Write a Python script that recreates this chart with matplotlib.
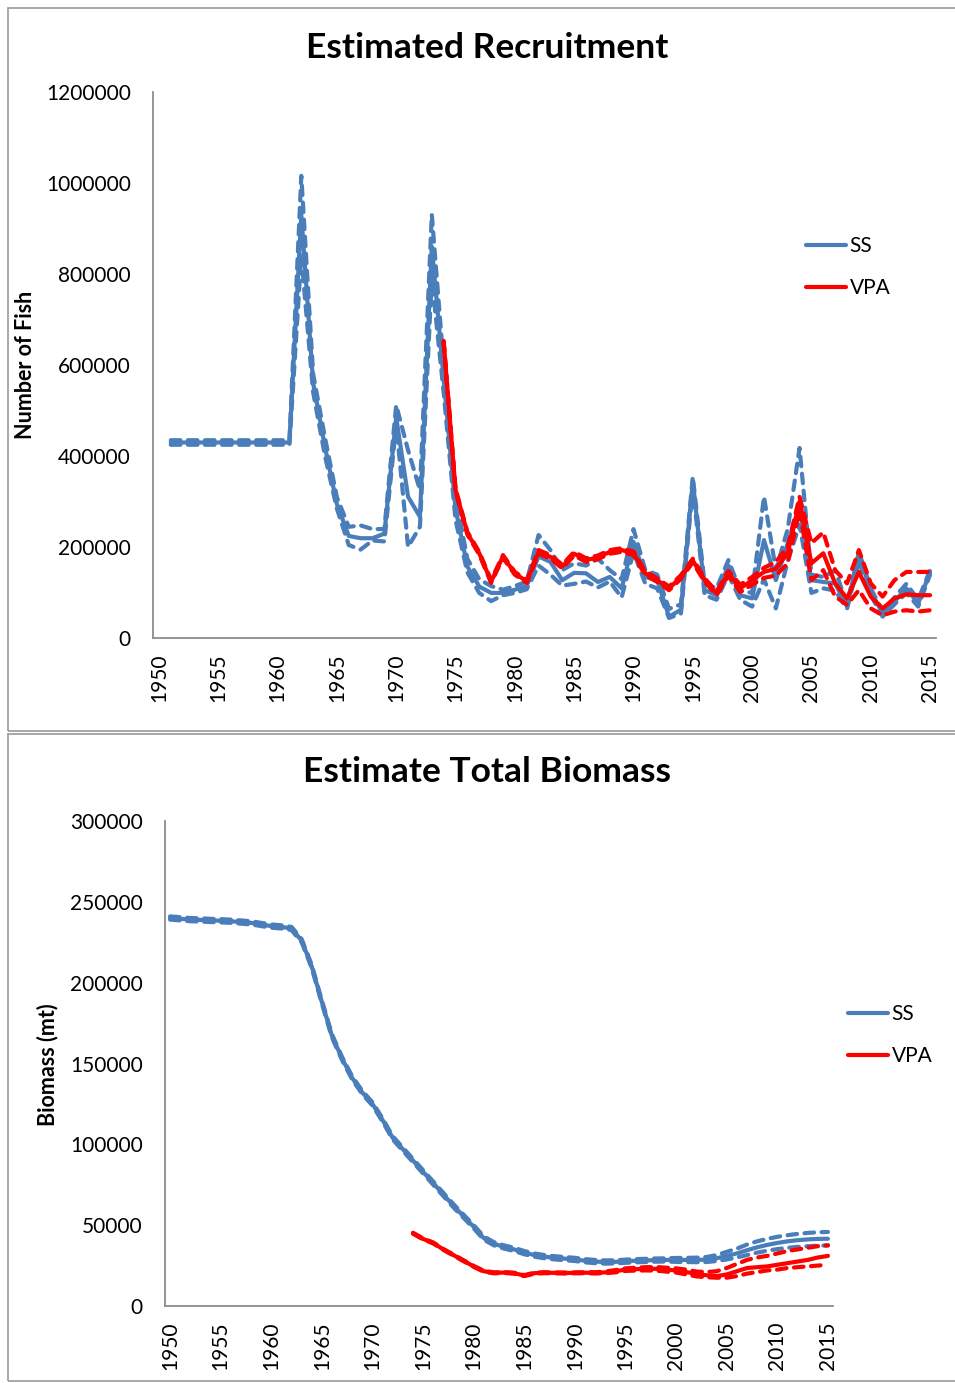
import matplotlib
matplotlib.use("Agg")
import matplotlib.pyplot as plt
from matplotlib.lines import Line2D
from matplotlib.patches import Rectangle

plt.rcParams['font.family'] = ['Lato', 'DejaVu Sans']

BLUE = '#4A7EBB'
RED = '#FF0000'
GRAY = '#8C8C8C'

# ---------------- Recruitment data ----------------
rec_ss_years = list(range(1951, 2016))
rec_ss = [430000, 430000, 430000, 430000, 430000, 430000, 430000, 430000, 430000, 430000, 430000,
          930000, 560000, 420000, 295000, 225000, 220000, 220000, 230000, 485000, 311000,
          267000, 860000, 570000, 285000, 158000, 114000, 100000, 100000, 107000, 115000,
          180000, 168000, 128000, 144000, 143000, 124000, 135000, 110000, 212000, 135000,
          128000, 48000, 63000, 345000, 106000, 95000, 160000, 95000, 88000, 216000,
          128000, 209000, 289000, 128000, 124000, 121000, 70000, 187000, 103000, 55000,
          81000, 110000, 77000, 146000]
rec_ss_hi = [435000, 435000, 435000, 435000, 435000, 435000, 435000, 435000, 435000, 435000, 435000,
             1015000, 580000, 440000, 310000, 245000, 248000, 240000, 240000, 512000, 413000,
             326000, 930000, 600000, 310000, 175000, 130000, 115000, 107000, 115000, 125000,
             227000, 194000, 150000, 165000, 160000, 175000, 150000, 130000, 240000, 150000,
             140000, 65000, 75000, 355000, 120000, 110000, 172000, 105000, 100000, 311000,
             150000, 240000, 418000, 140000, 135000, 150000, 75000, 190000, 110000, 60000,
             90000, 120000, 85000, 150000]
rec_ss_lo = [425000, 425000, 425000, 425000, 425000, 425000, 425000, 425000, 425000, 425000, 425000,
             840000, 540000, 400000, 285000, 205000, 195000, 215000, 213000, 470000, 201000,
             245000, 790000, 540000, 260000, 145000, 100000, 82000, 95000, 100000, 108000,
             160000, 140000, 116000, 120000, 125000, 112000, 125000, 90000, 190000, 120000,
             110000, 45000, 55000, 330000, 95000, 85000, 140000, 85000, 70000, 130000,
             66000, 170000, 250000, 100000, 110000, 105000, 65000, 170000, 95000, 48000,
             75000, 100000, 70000, 140000]

rec_vpa_years = list(range(1974, 2016))
rec_vpa = [651000, 326000, 231000, 187000, 125000, 180000, 143000, 125000, 190000, 179000,
           158000, 186000, 172000, 178000, 190000, 194000, 187000, 143000, 128000, 110000,
           135000, 171000, 128000, 99000, 143000, 110000, 128000, 146000, 153000, 187000,
           300000, 165000, 187000, 121000, 88000, 146000, 92000, 66000, 88000, 97000,
           95000, 95000]
rec_vpa_hi = [653000, 329000, 234000, 190000, 128000, 183000, 146000, 128000, 194000, 183000,
              162000, 190000, 176000, 182000, 194000, 198000, 191000, 147000, 132000, 114000,
              139000, 175000, 132000, 103000, 148000, 118000, 135000, 155000, 168000, 201000,
              311000, 209000, 233000, 150000, 121000, 194000, 121000, 92000, 128000, 146000,
              146000, 146000]
rec_vpa_lo = [649000, 323000, 228000, 184000, 122000, 177000, 140000, 122000, 186000, 175000,
              154000, 182000, 168000, 174000, 186000, 190000, 183000, 139000, 124000, 106000,
              131000, 167000, 124000, 95000, 138000, 102000, 118000, 133000, 138000, 165000,
              282000, 128000, 150000, 92000, 74000, 106000, 66000, 51000, 59000, 62000,
              59000, 62000]

# ---------------- Biomass data ----------------
bio_ss_years = list(range(1950, 2016))
bio_ss = [240000, 239500, 239000, 238800, 238500, 238300, 238000, 237500, 237000, 236000,
          235000, 234500, 233500, 226000, 210000, 188000, 167000, 153000, 141000, 132000,
          125000, 115000, 104000, 97000, 90000, 83000, 76000, 69000, 62000, 55500,
          49000, 42000, 38500, 36500, 35000, 33000, 31500, 30500, 29800, 29300,
          28800, 28000, 27500, 27200, 27300, 27700, 28000, 28200, 28400, 28500,
          28500, 28500, 28500, 28700, 29500, 31000, 32500, 34500, 36300, 37800,
          39000, 40000, 40700, 41200, 41500, 41600]
bio_ss_hi = [241000, 240500, 240000, 239800, 239500, 239300, 239000, 238500, 238000, 237000,
             236000, 235500, 234500, 227000, 211000, 189000, 168000, 154000, 142000, 133000,
             126000, 116000, 105000, 98000, 91000, 84000, 77000, 70000, 63000, 56500,
             50000, 43000, 39500, 37500, 36000, 34000, 32500, 31500, 30800, 30300,
             29800, 29000, 28500, 28200, 28300, 28700, 29000, 29200, 29400, 29500,
             29700, 29800, 29900, 30300, 31500, 33500, 35500, 38000, 40000, 41500,
             42800, 43800, 44600, 45200, 45600, 45800]
bio_ss_lo = [239000, 238500, 238000, 237800, 237500, 237300, 237000, 236500, 236000, 235000,
             234000, 233500, 232500, 225000, 209000, 187000, 166000, 152000, 140000, 131000,
             124000, 114000, 103000, 96000, 89000, 82000, 75000, 68000, 61000, 54500,
             48000, 41000, 37500, 35500, 34000, 32000, 30500, 29500, 28800, 28300,
             27800, 27000, 26500, 26200, 26300, 26700, 27000, 27200, 27400, 27500,
             27300, 27200, 27100, 27200, 27800, 28800, 30000, 31500, 33000, 34200,
             35200, 36000, 36600, 37000, 37300, 37500]

bio_vpa_years = list(range(1974, 2016))
bio_vpa = [45000, 41500, 39000, 35000, 31500, 28000, 24500, 21500, 20500, 20700,
           20300, 18800, 20300, 20600, 20500, 20400, 20500, 20600, 20500, 20800,
           21500, 22500, 22800, 23000, 23000, 22500, 22000, 21000, 19800, 19000,
           18500, 19500, 21500, 23500, 24000, 24500, 25500, 26500, 27500, 28500,
           30000, 31000]
bio_vpa_hi = [45300, 41800, 39300, 35300, 31800, 28300, 24800, 21800, 20800, 21000,
              20600, 19100, 20600, 20900, 20800, 20700, 20800, 20900, 20900, 21300,
              22200, 23300, 23700, 24000, 24100, 23700, 23300, 22500, 21300, 21000,
              21500, 23500, 26000, 28500, 30000, 31000, 32500, 34000, 35000, 36000,
              37000, 37500]
bio_vpa_lo = [44700, 41200, 38700, 34700, 31200, 27700, 24200, 21200, 20200, 20400,
              20000, 18500, 20000, 20300, 20200, 20100, 20200, 20300, 20100, 20300,
              20800, 21700, 21900, 22000, 21900, 21300, 20700, 19500, 18300, 17800,
              17500, 17500, 18500, 20000, 21000, 22000, 22500, 23500, 24000, 24500,
              25000, 25500]

rec_yticks = [0, 200000, 400000, 600000, 800000, 1000000, 1200000]
bio_yticks = [0, 50000, 100000, 150000, 200000, 250000, 300000]
xticks = list(range(1950, 2016, 5))

W, H = 955, 1383
fig = plt.figure(figsize=(W / 100, H / 100), dpi=100)

def fx(px):
    return px / W

def fy(py):
    return 1 - py / H

# panel borders
for (x0, y0, x1, y1) in [(8, 8, 962, 731), (8, 734, 962, 1381)]:
    fig.patches.append(Rectangle((fx(x0), fy(y1)), fx(x1) - fx(x0), fy(y0) - fy(y1),
                                 transform=fig.transFigure, fill=False,
                                 edgecolor='#9A9A9A', linewidth=1.2, zorder=0))

DASH = (0, (2.3, 1.8))
LW = 3.0
FS = 15

def style_axes(ax, yticks, ylim):
    ax.set_xlim(1949.5, 2015.5)
    ax.set_ylim(*ylim)
    ax.set_xticks(xticks)
    ax.set_xticklabels([str(t) for t in xticks], rotation=90)
    ax.set_yticks(yticks)
    ax.set_yticklabels([str(t) for t in yticks])
    for s in ['top', 'right']:
        ax.spines[s].set_visible(False)
    for s in ['left', 'bottom']:
        ax.spines[s].set_color(GRAY)
        ax.spines[s].set_linewidth(1.3)
    ax.tick_params(axis='x', length=0, pad=11, labelsize=FS)
    ax.tick_params(axis='y', length=0, pad=16, labelsize=FS)

def draw(ax, yrs, solid, hi, lo, color):
    ax.plot(yrs, hi, color=color, lw=LW, linestyle=DASH, dash_capstyle='round', solid_joinstyle='round')
    ax.plot(yrs, lo, color=color, lw=LW, linestyle=DASH, dash_capstyle='round', solid_joinstyle='round')
    ax.plot(yrs, solid, color=color, lw=LW, solid_capstyle='round', solid_joinstyle='round')

# ---------- top: recruitment ----------
ax1 = fig.add_axes([fx(153), fy(638.5), fx(936) - fx(153), fy(91.5) - fy(638.5)])
draw(ax1, rec_ss_years, rec_ss, rec_ss_hi, rec_ss_lo, BLUE)
draw(ax1, rec_vpa_years, rec_vpa, rec_vpa_hi, rec_vpa_lo, RED)
style_axes(ax1, rec_yticks, (0, 1200000))
fig.text(fx(487), fy(48), 'Estimated Recruitment', ha='center', va='center',
         fontsize=25.5, fontweight='bold')
fig.text(fx(26), fy(365), 'Number of Fish', ha='center', va='center', rotation=90,
         fontsize=15.5, fontweight='bold')

# ---------- bottom: biomass ----------
ax2 = fig.add_axes([fx(165), fy(1306), fx(833) - fx(165), fy(821) - fy(1306)])
draw(ax2, bio_ss_years, bio_ss, bio_ss_hi, bio_ss_lo, BLUE)
draw(ax2, bio_vpa_years, bio_vpa, bio_vpa_hi, bio_vpa_lo, RED)
style_axes(ax2, bio_yticks, (0, 300000))
fig.text(fx(487), fy(772), 'Estimate Total Biomass', ha='center', va='center',
         fontsize=25.5, fontweight='bold')
fig.text(fx(48), fy(1065), 'Biomass (mt)', ha='center', va='center', rotation=90,
         fontsize=15.5, fontweight='bold')

handles = [Line2D([], [], color=BLUE, lw=LW, solid_capstyle='round'),
           Line2D([], [], color=RED, lw=LW, solid_capstyle='round')]
labels = ['SS', 'VPA']
for (lx, ly) in [(806, 236), (848, 1004)]:
    fig.legend(handles, labels, loc='upper left', bbox_to_anchor=(fx(lx), fy(ly)),
               frameon=False, fontsize=FS, handlelength=1.9, handletextpad=0.2,
               labelspacing=1.05, borderpad=0, borderaxespad=0)

fig.savefig('out.png', dpi=100)
